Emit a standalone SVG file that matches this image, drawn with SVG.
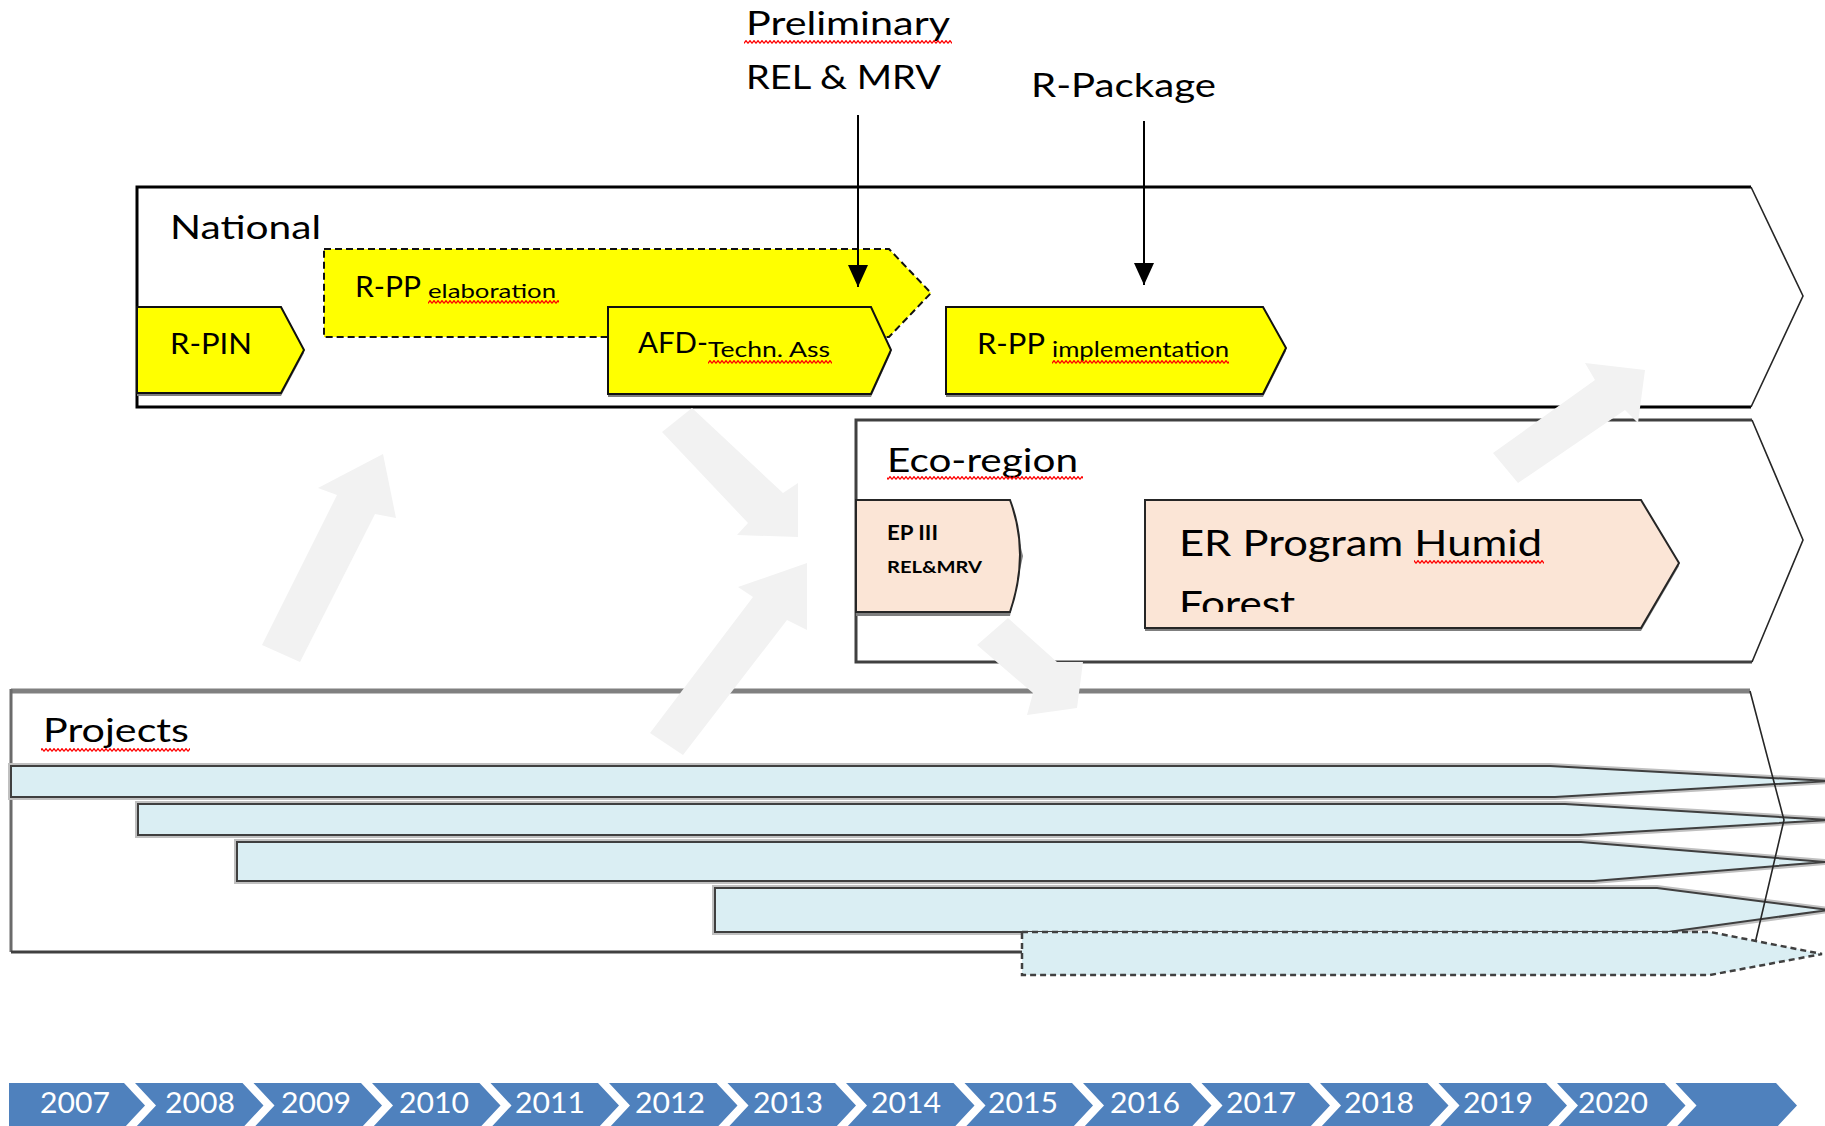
<svg xmlns="http://www.w3.org/2000/svg" width="1825" height="1126" viewBox="0 0 1825 1126">
<defs>
<style>
.t{font-family:Lato,"Open Sans","Liberation Sans",sans-serif;fill:#000;}
.yr{font-family:Lato,"Open Sans","Liberation Sans",sans-serif;fill:#fff;font-size:28px;}
.frameW{fill:#fff;stroke:none;}
.chev{fill:none;stroke:#262626;stroke-width:1.6;}
.yellow{fill:#FFFF00;stroke:#111;stroke-width:2;}
.peach{fill:#FBE5D6;stroke:#262626;stroke-width:2;}
.shadow{fill:#7f7f7f;}
.barU{fill:none;stroke:#c0c0c0;stroke-width:6;}
.bar{fill:#DAEEF3;stroke:#3f3f3f;stroke-width:2;}
.garrow{fill:#F2F2F2;}
.seg{fill:#4F81BD;}
.wavy{fill:url(#wavy);}
</style>
<pattern id="wavy" width="4" height="4" patternUnits="userSpaceOnUse"><path d="M0,3.4 L2,0.6 L4,3.4" fill="none" stroke="#ff0000" stroke-width="1.2"/></pattern>
<marker id="ah" viewBox="0 0 10 10" refX="10" refY="5" markerUnits="userSpaceOnUse" markerWidth="22" markerHeight="20" orient="auto" preserveAspectRatio="none"><path d="M0,0 L10,5 L0,10 Z" fill="#000"/></marker>
<clipPath id="erclip"><rect x="1145" y="500" width="540" height="112"/></clipPath>
</defs>

<!-- National frame -->
<g id="national">
<polygon class="frameW" points="137,187 1751,187 1803,296 1751,407 137,407"/>
<path d="M1751,187 H137 V407 H1751" fill="none" stroke="#000" stroke-width="3"/>
<path class="chev" d="M1751,187 L1803,296 L1751,407"/>
<text class="t" x="170" y="239" font-size="33" textLength="151" lengthAdjust="spacingAndGlyphs">National</text>
</g>

<!-- Eco-region frame -->
<g id="eco-region">
<polygon class="frameW" points="856,420 1752,420 1803,540 1752,662 856,662"/>
<path d="M1752,420 H856 V662 H1752" fill="none" stroke="#404040" stroke-width="3"/>
<path class="chev" d="M1752,420 L1803,540 L1752,662"/>
<text class="t" x="887" y="472" font-size="33" textLength="191" lengthAdjust="spacingAndGlyphs">Eco-region</text>
<rect class="wavy" x="887" y="476" width="196" height="4"/>
</g>

<!-- Projects frame -->
<g id="projects">
<polygon class="frameW" points="11,691 1750,691 1784,820 1753,952 11,952"/>
<path d="M1750,691 H11" fill="none" stroke="#808080" stroke-width="5"/>
<path d="M11,689 V952" fill="none" stroke="#6b6b6b" stroke-width="3"/>
<path d="M11,952 H1753" fill="none" stroke="#404040" stroke-width="3"/>
<text class="t" x="43" y="742" font-size="33" textLength="146" lengthAdjust="spacingAndGlyphs">Projects</text>
<rect class="wavy" x="41" y="748" width="149" height="4"/>
</g>

<!-- R-PP elaboration (dashed) -->
<g id="rpp-elaboration">
<polygon points="324,249 889,249 931,293 889,337 324,337" fill="#FFFF00" stroke="#111" stroke-width="2" stroke-dasharray="7,4"/>
<text class="t" x="355" y="297" font-size="29" textLength="66" lengthAdjust="spacingAndGlyphs">R-PP</text>
<text class="t" x="428" y="298" font-size="20" textLength="128" lengthAdjust="spacingAndGlyphs">elaboration</text>
<rect class="wavy" x="428" y="300" width="131" height="4"/>
</g>

<!-- R-PIN -->
<g id="rpin">
<polygon class="shadow" points="137,310 281,310 304,353 281,396 137,396"/>
<polygon class="yellow" points="137,307 281,307 304,350 281,393 137,393"/>
<text class="t" x="170" y="354" font-size="29" textLength="82" lengthAdjust="spacingAndGlyphs">R-PIN</text>
</g>

<!-- AFD Techn. Ass -->
<g id="afd">
<polygon class="shadow" points="608,310 871,310 891,353 871,397 608,397"/>
<polygon class="yellow" points="608,307 871,307 891,350 871,394 608,394"/>
<text class="t" x="638" y="353" font-size="29" textLength="70" lengthAdjust="spacingAndGlyphs">AFD-</text>
<text class="t" x="708" y="357" font-size="21" textLength="122" lengthAdjust="spacingAndGlyphs">Techn. Ass</text>
<rect class="wavy" x="708" y="360" width="124" height="4"/>
</g>

<!-- R-PP implementation -->
<g id="rpp-implementation">
<polygon class="shadow" points="946,310 1263,310 1286,351 1263,397 946,397"/>
<polygon class="yellow" points="946,307 1263,307 1286,348 1263,394 946,394"/>
<text class="t" x="977" y="354" font-size="29" textLength="68" lengthAdjust="spacingAndGlyphs">R-PP</text>
<text class="t" x="1052" y="357" font-size="21" textLength="177" lengthAdjust="spacingAndGlyphs">implementation</text>
<rect class="wavy" x="1052" y="360" width="177" height="4"/>
</g>

<!-- EP III -->
<g id="ep3">
<polygon class="shadow" points="856,503 1010,503 1023,556 1010,616 856,616"/>
<path class="peach" d="M856,500 H1010 Q1030,553 1010,612 H856 Z"/>
<text class="t" x="887" y="540" font-size="21" font-weight="bold" textLength="51" lengthAdjust="spacingAndGlyphs">EP III</text>
<text class="t" x="887" y="573" font-size="17" font-weight="bold" textLength="95" lengthAdjust="spacingAndGlyphs">REL&amp;MRV</text>
</g>

<!-- ER Program Humid Forest -->
<g id="er-program">
<polygon class="shadow" points="1145,503 1641,503 1679,566 1641,631 1145,631"/>
<polygon class="peach" points="1145,500 1641,500 1679,563 1641,628 1145,628"/>
<text class="t" x="1179" y="556" font-size="36" textLength="363" lengthAdjust="spacingAndGlyphs">ER Program Humid</text>
<rect class="wavy" x="1414" y="560" width="130" height="4"/>
<g clip-path="url(#erclip)"><text class="t" x="1179" y="617" font-size="36" textLength="116" lengthAdjust="spacingAndGlyphs">Forest</text></g>
</g>

<!-- Project bars -->
<g id="project-bar-1">
<polygon class="barU" points="11,766 1550,766 1828,781 1555,797 11,797"/>
<polygon class="bar" points="11,766 1550,766 1828,781 1555,797 11,797"/>
</g>
<g id="project-bar-2">
<polygon class="barU" points="138,804 1565,804 1828,820 1579,835 138,835"/>
<polygon class="bar" points="138,804 1565,804 1828,820 1579,835 138,835"/>
</g>
<g id="project-bar-3">
<polygon class="barU" points="237,842 1581,842 1825,862 1594,881 237,881"/>
<polygon class="bar" points="237,842 1581,842 1825,862 1594,881 237,881"/>
</g>
<g id="project-bar-4">
<polygon class="barU" points="715,888 1657,888 1828,910 1668,932 715,932"/>
<polygon class="bar" points="715,888 1657,888 1828,910 1668,932 715,932"/>
</g>
<g id="projects-edge">
<path class="chev" d="M1750,691 L1784,820 L1753,952"/>
</g>
<g id="project-bar-5">
<polygon points="1022,932 1710,932 1822,954 1710,975 1022,975" fill="#DAEEF3" stroke="#404040" stroke-width="2.5" stroke-dasharray="6,4"/>
</g>

<!-- Milestone labels -->
<g id="preliminary">
<text class="t" x="746" y="35" font-size="32" textLength="204" lengthAdjust="spacingAndGlyphs">Preliminary</text>
<rect class="wavy" x="744" y="40" width="208" height="4"/>
<text class="t" x="746" y="89" font-size="32" textLength="195" lengthAdjust="spacingAndGlyphs">REL &amp; MRV</text>
</g>
<g id="r-package">
<text class="t" x="1031" y="97" font-size="32" textLength="185" lengthAdjust="spacingAndGlyphs">R-Package</text>
</g>

<!-- Connectors -->
<g id="connectors">
<line x1="858" y1="115" x2="858" y2="287" stroke="#000" stroke-width="2" marker-end="url(#ah)"/>
<line x1="1144" y1="121" x2="1144" y2="285" stroke="#000" stroke-width="2" marker-end="url(#ah)"/>
<polygon class="garrow" points="383,454 396,518 375,514 300,662 262,645 337,495 318,488"/>
<polygon class="garrow" points="692,408 783,493 798,483 798,537 737,535 748,523 662,432"/>
<polygon class="garrow" points="650,733 753,597 738,587 807,563 807,630 787,620 683,755"/>
<polygon class="garrow" points="1008,618 1057,662 1083,662 1077,708 1027,715 1033,693 977,645"/>
<polygon class="garrow" points="1493,453 1595,380 1585,363 1645,370 1638,423 1625,410 1518,483"/>
</g>

<!-- Timeline -->
<g id="timeline">
<path class="seg" d="M9,1083 H124 L145,1105.5 L124,1128 H9 Z"/>
<path class="seg" d="M135,1083 H242.5 L263.5,1105.5 L242.5,1128 H135 L156,1105.5 Z"/>
<path class="seg" d="M253.5,1083 H361 L382,1105.5 L361,1128 H253.5 L274.5,1105.5 Z"/>
<path class="seg" d="M372,1083 H479.5 L500.5,1105.5 L479.5,1128 H372 L393,1105.5 Z"/>
<path class="seg" d="M490.5,1083 H598 L619,1105.5 L598,1128 H490.5 L511.5,1105.5 Z"/>
<path class="seg" d="M609,1083 H716.5 L737.5,1105.5 L716.5,1128 H609 L630,1105.5 Z"/>
<path class="seg" d="M727.5,1083 H835 L856,1105.5 L835,1128 H727.5 L748.5,1105.5 Z"/>
<path class="seg" d="M846,1083 H953.5 L974.5,1105.5 L953.5,1128 H846 L867,1105.5 Z"/>
<path class="seg" d="M964.5,1083 H1072 L1093,1105.5 L1072,1128 H964.5 L985.5,1105.5 Z"/>
<path class="seg" d="M1083,1083 H1190.5 L1211.5,1105.5 L1190.5,1128 H1083 L1104,1105.5 Z"/>
<path class="seg" d="M1201.5,1083 H1309 L1330,1105.5 L1309,1128 H1201.5 L1222.5,1105.5 Z"/>
<path class="seg" d="M1320,1083 H1427.5 L1448.5,1105.5 L1427.5,1128 H1320 L1341,1105.5 Z"/>
<path class="seg" d="M1438.5,1083 H1546 L1567,1105.5 L1546,1128 H1438.5 L1459.5,1105.5 Z"/>
<path class="seg" d="M1557,1083 H1664.5 L1685.5,1105.5 L1664.5,1128 H1557 L1578,1105.5 Z"/>
<path class="seg" d="M1675.5,1083 H1776 L1797,1105.5 L1776,1128 H1675.5 L1696.5,1105.5 Z"/>
<text class="yr" x="40" y="1113" textLength="70" lengthAdjust="spacingAndGlyphs">2007</text>
<text class="yr" x="165" y="1113" textLength="70" lengthAdjust="spacingAndGlyphs">2008</text>
<text class="yr" x="281" y="1113" textLength="70" lengthAdjust="spacingAndGlyphs">2009</text>
<text class="yr" x="399" y="1113" textLength="70" lengthAdjust="spacingAndGlyphs">2010</text>
<text class="yr" x="515" y="1113" textLength="70" lengthAdjust="spacingAndGlyphs">2011</text>
<text class="yr" x="635" y="1113" textLength="70" lengthAdjust="spacingAndGlyphs">2012</text>
<text class="yr" x="753" y="1113" textLength="70" lengthAdjust="spacingAndGlyphs">2013</text>
<text class="yr" x="871" y="1113" textLength="70" lengthAdjust="spacingAndGlyphs">2014</text>
<text class="yr" x="988" y="1113" textLength="70" lengthAdjust="spacingAndGlyphs">2015</text>
<text class="yr" x="1110" y="1113" textLength="70" lengthAdjust="spacingAndGlyphs">2016</text>
<text class="yr" x="1226" y="1113" textLength="70" lengthAdjust="spacingAndGlyphs">2017</text>
<text class="yr" x="1344" y="1113" textLength="70" lengthAdjust="spacingAndGlyphs">2018</text>
<text class="yr" x="1463" y="1113" textLength="70" lengthAdjust="spacingAndGlyphs">2019</text>
<text class="yr" x="1578" y="1113" textLength="70" lengthAdjust="spacingAndGlyphs">2020</text>
</g>
</svg>
